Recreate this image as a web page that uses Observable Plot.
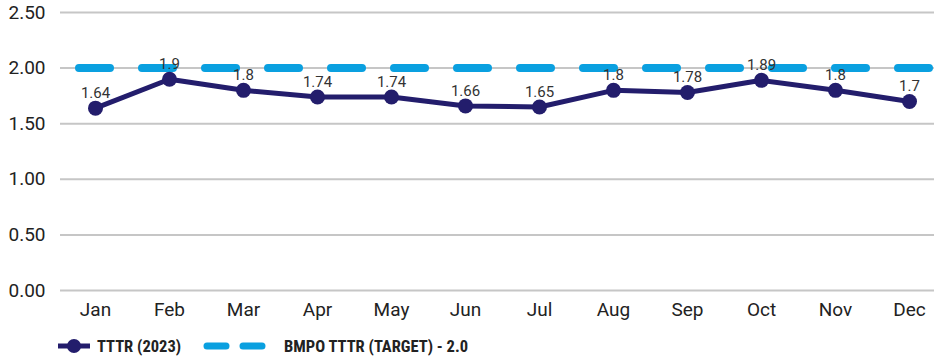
<!DOCTYPE html>
<html>
<head>
<meta charset="utf-8">
<script src="https://cdn.jsdelivr.net/npm/d3@7"></script>
<script src="https://cdn.jsdelivr.net/npm/@observablehq/plot@0.6"></script>
<style>
  html, body { margin: 0; padding: 0; background: #fff; }
  #chart svg { display: block; }
  .legend {
    display: flex; align-items: center; height: 28px; margin-top: 2px;
    font-family: "Liberation Sans Narrow", "Roboto Condensed", "Roboto", sans-serif;
    font-weight: bold; font-size: 16.5px; color: #222;
  }
  .legend .item { display: flex; align-items: center; }
  .legend svg { display: block; }
</style>
</head>
<body>
<div id="chart"></div>
<div class="legend">
  <div class="item" style="margin-left:57px">
    <svg width="34" height="18"><line x1="1" y1="9" x2="33" y2="9" stroke="#231d6c" stroke-width="5"/><circle cx="17" cy="9" r="7" fill="#231d6c"/></svg>
    <span style="margin-left:6px">TTTR (2023)</span>
  </div>
  <div class="item" style="margin-left:22px">
    <svg width="66" height="18"><line x1="4" y1="9" x2="62" y2="9" stroke="#0aa0e0" stroke-width="7" stroke-linecap="round" stroke-dasharray="19,17"/></svg>
    <span style="margin-left:15px">BMPO TTTR (TARGET) - 2.0</span>
  </div>
</div>
<script>
// Monthly TTTR for 2023 against the BMPO target
const months = ["Jan", "Feb", "Mar", "Apr", "May", "Jun", "Jul", "Aug", "Sep", "Oct", "Nov", "Dec"];
const tttr = [1.64, 1.9, 1.8, 1.74, 1.74, 1.66, 1.65, 1.8, 1.78, 1.89, 1.8, 1.7];
const target = 2.0;
const yTicks = [0, 0.5, 1, 1.5, 2, 2.5];

const navy = "#231d6c";
const blue = "#0aa0e0";

const data = months.map((m, i) => ({month: m, value: tttr[i]}));

const chart = Plot.plot({
  width: 934,
  height: 330,
  marginLeft: 60,
  marginRight: 0,
  marginTop: 12,
  marginBottom: 40,
  style: {fontFamily: "Roboto, sans-serif", color: "#222", background: "#fff"},
  x: {type: "point", domain: months, padding: 0, insetLeft: 30, insetRight: 21},
  y: {domain: [0, 2.5]},
  marks: [
    Plot.ruleY(yTicks, {stroke: "#c6c6c6", strokeWidth: 2}),
    Plot.axisY({ticks: yTicks, tickSize: 0, tickPadding: 15, tickFormat: d3.format(".2f"), fontSize: 19, label: null}),
    Plot.axisX({tickSize: 0, tickPadding: 12, fontSize: 19, label: null}),
    Plot.ruleY([target], {stroke: blue, strokeWidth: 8, strokeLinecap: "round", strokeDasharray: "31,32", strokeDashoffset: -19}),
    Plot.line(data, {x: "month", y: "value", stroke: navy, strokeWidth: 5}),
    Plot.dot(data, {x: "month", y: "value", r: 7.5, fill: navy}),
    Plot.text(data, {x: "month", y: "value", text: d => String(d.value), dy: -15, fontSize: 15, fill: "#333"})
  ]
});
document.getElementById("chart").append(chart);
</script>
</body>
</html>
